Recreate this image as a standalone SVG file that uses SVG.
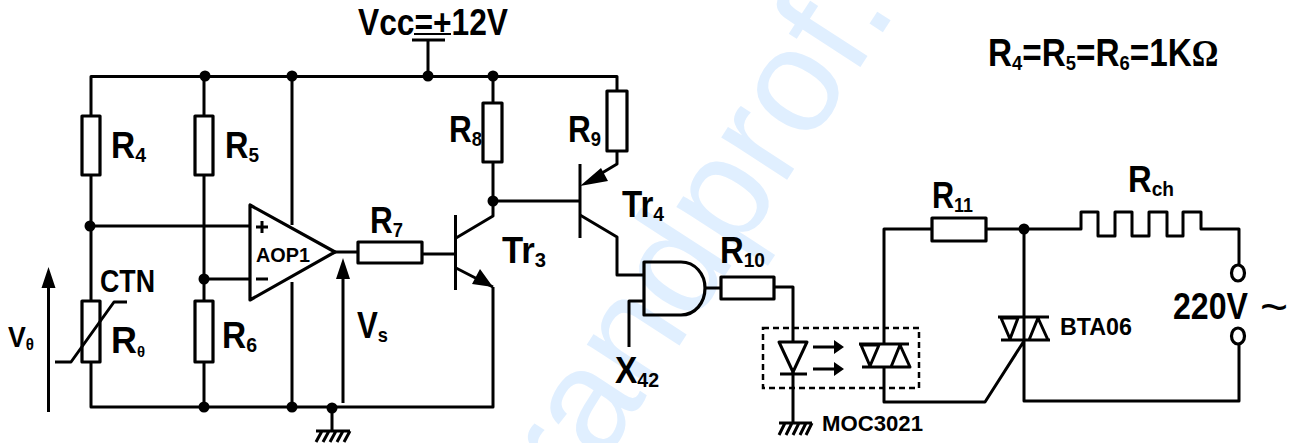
<svg xmlns="http://www.w3.org/2000/svg" width="1291" height="443" viewBox="0 0 1291 443">
<style>
.w{fill:none;stroke:#000;stroke-width:3;stroke-linejoin:round}
.r{fill:none;stroke:#000;stroke-width:3.2;stroke-linejoin:round}
.n{fill:#000}
.f{fill:#000;stroke:none}
text{font-family:"Liberation Sans",Arial,sans-serif;font-weight:700;fill:#000}
.L{font-size:36px}
.s{font-size:21px}
.wm{font-size:148px;font-weight:400;fill:#e0efff}
</style>
<rect width="1291" height="443" fill="#fff"/>
<text class="wm" transform="translate(898,9) rotate(-57)" text-anchor="end">randprof.</text>
<g id="connectors">
<path class="w" d="M91 116V76.500H617V91M617 151V164L592 179M580 215L617 237V275H644M644 301H629V347"/>
<path class="w" d="M204 76V116M204 175V301M204 362V407M91 175V301M91 362V407H493V287M90 226H250M204 279H250"/>
<path class="w" d="M292 76V225M292 282V407M428 76V40M412 40H445M335 252H358M422 254H455"/>
<path class="w" d="M493 76V103M493 162V216L456 238M456 268L493 287M493 201H580"/>
<path class="w" d="M705 288H721M774 287H793V342M793 372V423"/>
<path class="w" d="M884 344V229H932M986 229H1081V212H1098V236H1115V212H1132V236H1149V212H1167V236H1183V212H1201V229H1239V265M1239 344V401H1024V229M884 367V402H985L1024 341"/>
<path class="w" d="M343 403V275M48.500 412V284M55 362H71L114 302H127"/>
<path class="w" d="M332 408V431M316 431H350M322 431L316 442M329 431L323 442M336 431L330 442M343 431L337 442M350 431L344 442"/>
<path class="w" d="M779 423H812M785 423L779 435M792 423L786 435M799 423L793 435M806 423L800 435M812 423L806 435"/>
<path class="w" style="stroke-width:2" d="M414 34H451"/>
<path class="f" d="M343 258L350 279H336ZM48.500 267L55.500 288H41.500ZM580 186L601 168L608 181ZM493 287L472 284L480 269Z"/>
<path class="w" d="M813 347H838M813 369H838"/>
<path class="f" d="M844 347L834 340V354ZM844 369L834 362V376Z"/>
</g>
<g id="R4"><rect class="r" x="82" y="116" width="18" height="59"/><text class="L" x="111" y="158" textLength="35" lengthAdjust="spacingAndGlyphs">R<tspan class="s" dy="4">4</tspan></text></g>
<g id="R5"><rect class="r" x="195" y="116" width="18" height="59"/><text class="L" x="225" y="158" textLength="34" lengthAdjust="spacingAndGlyphs">R<tspan class="s" dy="4">5</tspan></text></g>
<g id="R6"><rect class="r" x="195" y="301" width="18" height="61"/><text class="L" x="222" y="348" textLength="35" lengthAdjust="spacingAndGlyphs">R<tspan class="s" dy="4">6</tspan></text></g>
<g id="Rtheta"><rect class="r" x="82" y="301" width="18" height="61"/><text class="L" x="111" y="353" textLength="34" lengthAdjust="spacingAndGlyphs">R<tspan style="font-size:15px" dy="4">θ</tspan></text><text x="100" y="292" textLength="55" lengthAdjust="spacingAndGlyphs" style="font-size:31px">CTN</text></g>
<g id="AOP1"><path class="r" d="M250 205V300L335 252Z"/><text x="256" y="262" textLength="54" lengthAdjust="spacingAndGlyphs" style="font-size:21px">AOP1</text><path class="w" d="M256 227H268M262 221V233M256 279H268"/></g>
<g id="R7"><rect class="r" x="358" y="242" width="64" height="21"/><text class="L" x="370" y="233" textLength="33" lengthAdjust="spacingAndGlyphs">R<tspan class="s" dy="4">7</tspan></text></g>
<g id="Tr3"><path class="w" d="M455.500 215V290"/><text class="L" x="502" y="263" textLength="44" lengthAdjust="spacingAndGlyphs">Tr<tspan class="s" dy="4">3</tspan></text></g>
<g id="R8"><rect class="r" x="483" y="103" width="19" height="59"/><text class="L" x="449" y="142" textLength="33" lengthAdjust="spacingAndGlyphs">R<tspan class="s" dy="4">8</tspan></text></g>
<g id="R9"><rect class="r" x="607" y="91" width="20" height="60"/><text class="L" x="568" y="142" textLength="33" lengthAdjust="spacingAndGlyphs">R<tspan class="s" dy="4">9</tspan></text></g>
<g id="Tr4"><path class="w" d="M580 164V238"/><text class="L" x="622" y="217" textLength="42" lengthAdjust="spacingAndGlyphs">Tr<tspan class="s" dy="4">4</tspan></text></g>
<g id="AND"><path class="r" d="M644 262H681C695 262 705 274 705 288C705 303 695 315 681 315H644Z"/><text class="L" x="615" y="383" textLength="44" lengthAdjust="spacingAndGlyphs">X<tspan class="s" dy="4">42</tspan></text></g>
<g id="R10"><rect class="r" x="721" y="277" width="53" height="22"/><text class="L" x="720" y="263" textLength="45" lengthAdjust="spacingAndGlyphs">R<tspan class="s" dy="4">10</tspan></text></g>
<g id="MOC3021"><rect x="763" y="328" width="156" height="60" fill="none" stroke="#000" stroke-width="2.500" stroke-dasharray="6 4"/><path class="w" d="M779 342H807L793 372ZM780 374H807"/><path class="w" d="M859 344H909M862 367H911M861 345H879L870 366ZM900 345L891 367H910Z"/><text x="822" y="431" textLength="101" lengthAdjust="spacingAndGlyphs" style="font-size:22px">MOC3021</text></g>
<g id="R11"><rect class="r" x="932" y="218" width="54" height="23"/><text class="L" x="932" y="208" textLength="41" lengthAdjust="spacingAndGlyphs">R<tspan class="s" dy="4">11</tspan></text></g>
<g id="BTA06"><path class="w" d="M998 317H1049M1001 340H1050M1001 318H1018L1010 339ZM1038 318L1029 340H1048Z"/><text x="1060" y="335" textLength="72" lengthAdjust="spacingAndGlyphs" style="font-size:23px">BTA06</text></g>
<g id="Rch"><text class="L" x="1128" y="192" textLength="46" lengthAdjust="spacingAndGlyphs">R<tspan class="s" dy="4">ch</tspan></text></g>
<g id="Source"><ellipse class="r" cx="1238" cy="273" rx="6.500" ry="8"/><ellipse class="r" cx="1238" cy="336" rx="6.500" ry="8"/><text x="1173" y="319" textLength="75" lengthAdjust="spacingAndGlyphs" style="font-size:36px">220V</text><text x="1260" y="323" style="font-size:48px;font-weight:400">~</text></g>
<g id="Labels">
<text x="358" y="35" textLength="150" lengthAdjust="spacingAndGlyphs" style="font-size:36px">Vcc=+12V</text>
<text transform="translate(988,66) scale(.877,1)" style="font-size:38px">R<tspan class="s" dy="4">4</tspan><tspan dy="-4">=R</tspan><tspan class="s" dy="4">5</tspan><tspan dy="-4">=R</tspan><tspan class="s" dy="4">6</tspan><tspan dy="-4">=1K</tspan><tspan style="font-family:'Liberation Serif',serif;font-size:38px">Ω</tspan></text>
<text x="8" y="347" textLength="26" lengthAdjust="spacingAndGlyphs" style="font-size:30px">V<tspan style="font-size:17px" dy="3">θ</tspan></text>
<text class="L" x="357" y="338" textLength="31" lengthAdjust="spacingAndGlyphs">V<tspan class="s" dy="4">s</tspan></text>
</g>
<g id="junctions" class="n">
<circle cx="205" cy="76" r="5.500"/><circle cx="292" cy="76" r="5.500"/><circle cx="428" cy="76" r="5.500"/><circle cx="493" cy="76" r="5.500"/>
<circle cx="90" cy="226" r="5.500"/><circle cx="204" cy="279" r="5.500"/><circle cx="493" cy="201" r="5.500"/>
<circle cx="204" cy="407" r="5.500"/><circle cx="292" cy="407" r="5.500"/><circle cx="332" cy="408" r="5.500"/><circle cx="1024" cy="229" r="5.500"/>
</g>
</svg>
